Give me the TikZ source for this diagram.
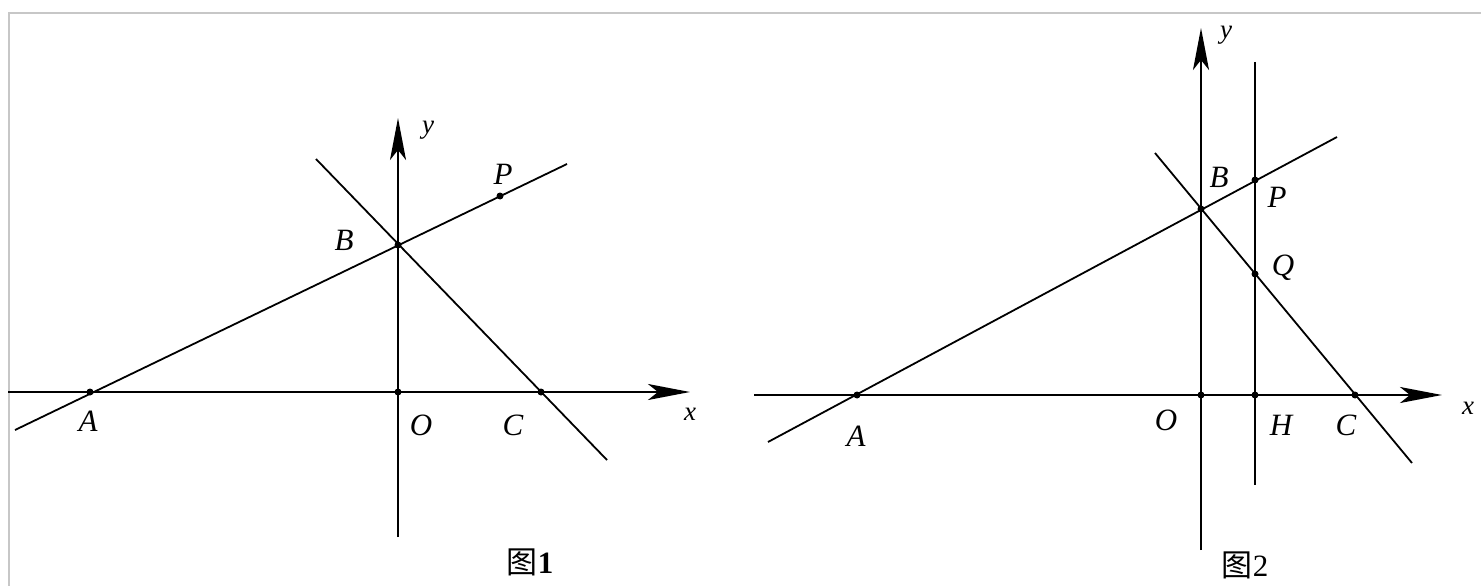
\documentclass[tikz,border=0pt]{standalone}
\usepackage{fontspec}
\setmainfont{Liberation Serif}
\newfontfamily\cjkfont{Noto Sans CJK SC}
\usetikzlibrary{arrows.meta}
\begin{document}
\begin{tikzpicture}[x=1pt,y=-1pt,
  axis/.style={line width=2.4pt,-{Stealth[length=42pt,width=16pt,inset=10pt]}},
  ln/.style={line width=1.8pt},
  dotpt/.style={circle,fill=black,inner sep=0pt,minimum size=7pt},
  lbl/.style={font=\fontsize{31}{36}\selectfont\itshape,inner sep=0pt},
  axl/.style={font=\fontsize{27}{30}\selectfont\itshape,inner sep=0pt},
  caption/.style={font=\fontsize{31}{36}\selectfont,inner sep=0pt}]
\useasboundingbox (0,0) rectangle (1481,586);
\draw[color=black!22,line width=2pt] (1481,13) -- (9,13) -- (9,586);

% ---------- Figure 1 ----------
\coordinate (xs1) at (8,392);
\coordinate (xe1) at (690,392);
\coordinate (ys1) at (398,537);
\coordinate (ye1) at (398,118);
\draw[axis] (xs1) -- (xe1);
\draw[axis] (ys1) -- (ye1);
\node[dotpt] (A1) at (90,392) {};
\node[dotpt] (B1) at (398,245) {};
\node[dotpt] (O1) at (398,392) {};
\node[dotpt] (C1) at (541,392) {};
\node[dotpt] (P1) at (500,196) {};
\coordinate (ab1s) at (15,430);
\coordinate (ab1e) at (567,164);
\coordinate (bc1s) at (316,159);
\coordinate (bc1e) at (607,460);
\draw[ln] (ab1s) -- (ab1e);
\draw[ln] (bc1s) -- (bc1e);
\node[lbl] (lA1) at (88,421) {A};
\node[lbl] (lO1) at (421,425) {O};
\node[lbl] (lC1) at (513,425) {C};
\node[lbl] (lB1) at (344,240) {B};
\node[lbl] (lP1) at (503,174) {P};
\node[axl] (lx1) at (690,414) {x};
\node[axl] (ly1) at (428,130) {y};
\node[caption] (cap1) at (530,562) {{\cjkfont 图}\textbf{1}};

% ---------- Figure 2 ----------
\coordinate (xs2) at (754,395);
\coordinate (xe2) at (1442,395);
\coordinate (ys2) at (1201,550);
\coordinate (ye2) at (1201,28);
\draw[axis] (xs2) -- (xe2);
\draw[axis] (ys2) -- (ye2);
\node[dotpt] (A2) at (857,395) {};
\node[dotpt] (B2) at (1201,209) {};
\node[dotpt] (O2) at (1201,395) {};
\node[dotpt] (H2) at (1255,395) {};
\node[dotpt] (C2) at (1355,395) {};
\node[dotpt] (P2) at (1255,180) {};
\node[dotpt] (Q2) at (1255,274) {};
\coordinate (ab2s) at (768,442);
\coordinate (ab2e) at (1337,137);
\coordinate (bc2s) at (1155,153);
\coordinate (bc2e) at (1412,463);
\coordinate (vs2) at (1255,62);
\coordinate (ve2) at (1255,485);
\draw[ln] (ab2s) -- (ab2e);
\draw[ln] (bc2s) -- (bc2e);
\draw[ln] (vs2) -- (ve2);
\node[lbl] (lA2) at (856,436) {A};
\node[lbl] (lO2) at (1166,420) {O};
\node[lbl] (lH2) at (1281,425) {H};
\node[lbl] (lC2) at (1346,425) {C};
\node[lbl] (lB2) at (1219,177) {B};
\node[lbl] (lP2) at (1277,197) {P};
\node[lbl] (lQ2) at (1283,268) {Q};
\node[axl] (lx2) at (1468,408) {x};
\node[axl] (ly2) at (1226,35) {y};
\node[caption] (cap2) at (1245,565) {{\cjkfont 图}2};
\end{tikzpicture}
\end{document}
